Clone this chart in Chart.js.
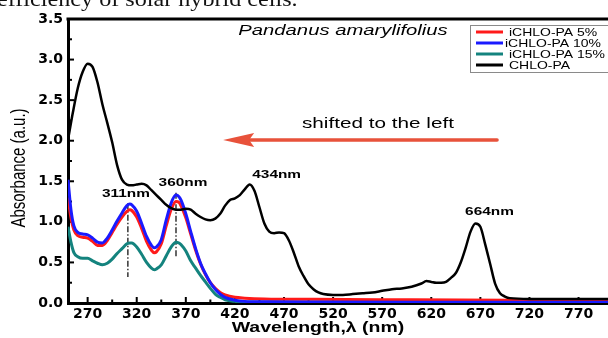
<!DOCTYPE html>
<html>
<head>
<meta charset="utf-8">
<script src="https://cdn.jsdelivr.net/npm/chart.js@4.4.1/dist/chart.umd.min.js"></script>
<style>
html,body{margin:0;padding:0;background:#fff;overflow:hidden;}
#wrap{position:relative;width:608px;height:338px;}
canvas{display:block;}
</style>
</head>
<body>
<div id="wrap"><canvas id="c" width="608" height="338"></canvas></div>
<script>
// ---------------- DATA ----------------
const seriesLabels = ["iCHLO-PA 5%", "iCHLO-PA 10%", "iCHLO-PA 15%", "CHLO-PA"];
const xTickValues = [270, 320, 370, 420, 470, 520, 570, 620, 670, 720, 770];
const yTickValues = [0.0, 0.5, 1.0, 1.5, 2.0, 2.5, 3.0, 3.5];

const wlBlack = [250,255,260,265,270,275,280,285,290,295,300,305,310,315,320,325,330,335,340,345,350,355,360,365,370,375,380,385,390,395,400,405,410,415,420,425,430,435,440,445,450,455,460,465,470,475,480,485,490,495,500,505,510,520,530,540,550,560,570,580,590,600,610,615,620,625,630,635,640,645,650,655,660,665,670,675,680,685,690,695,700,720,760,800];
const absBlack = [2.01,2.35,2.65,2.85,2.95,2.91,2.72,2.45,2.22,1.98,1.70,1.52,1.46,1.45,1.46,1.47,1.45,1.39,1.33,1.27,1.21,1.17,1.15,1.15,1.16,1.15,1.10,1.06,1.03,1.02,1.04,1.10,1.20,1.27,1.29,1.33,1.40,1.46,1.38,1.18,0.98,0.88,0.86,0.87,0.86,0.77,0.62,0.45,0.33,0.23,0.17,0.13,0.11,0.10,0.10,0.11,0.12,0.13,0.15,0.17,0.18,0.20,0.24,0.27,0.26,0.25,0.25,0.26,0.31,0.37,0.50,0.68,0.88,0.98,0.94,0.72,0.48,0.24,0.12,0.08,0.06,0.05,0.05,0.05];

const wlHybrid = [250,253,256,260,265,270,275,280,285,290,295,300,305,310,313,315,320,325,330,335,338,340,345,350,355,360,363,365,370,375,380,385,390,395,400,405,410,420,430,450,500,600,700,800];
const absRed   = [1.30,1.05,0.90,0.83,0.81,0.80,0.76,0.71,0.71,0.77,0.87,0.97,1.06,1.13,1.15,1.14,1.06,0.92,0.76,0.65,0.62,0.63,0.73,0.95,1.15,1.25,1.24,1.20,1.05,0.85,0.65,0.48,0.35,0.25,0.18,0.13,0.10,0.07,0.06,0.05,0.045,0.04,0.035,0.03];
const absBlue  = [1.52,1.15,0.95,0.87,0.85,0.84,0.80,0.75,0.74,0.80,0.90,1.01,1.11,1.20,1.22,1.21,1.13,0.98,0.82,0.71,0.68,0.69,0.78,1.02,1.23,1.33,1.31,1.27,1.10,0.88,0.67,0.49,0.36,0.25,0.17,0.11,0.07,0.035,0.02,0.015,0.012,0.01,0.01,0.01];
const absTeal  = [0.94,0.75,0.62,0.57,0.55,0.55,0.52,0.49,0.47,0.49,0.54,0.61,0.67,0.73,0.74,0.74,0.69,0.60,0.50,0.43,0.41,0.42,0.47,0.58,0.69,0.75,0.74,0.72,0.64,0.52,0.43,0.34,0.26,0.18,0.11,0.07,0.04,0.02,0.012,0.01,0.01,0.01,0.01,0.01];

// peak annotations [label, wavelength, absorbance of label baseline]
const peakLabels = [["311nm", 311, 1.31], ["360nm", 360, 1.44], ["434nm", 434, 1.54], ["664nm", 664, 1.08]];
const peakMarkers = [[311, 1.23, 0.32], [360, 1.36, 0.55]];

// ---------------- STYLE ----------------
const colors = ["#ff1a1a", "#1a1aff", "#14837e", "#000000"];
const toPts = (xs, ys) => xs.map((x, i) => ({x: x, y: ys[i]}));

function sText(ctx, str, x, y, font, color, sx, align) {
  ctx.save();
  ctx.font = font; ctx.fillStyle = color; ctx.textAlign = align || 'left'; ctx.textBaseline = 'alphabetic';
  ctx.translate(x, y); ctx.scale(sx, 1);
  ctx.fillText(str, 0, 0);
  ctx.restore();
}

const decor = {
  id: 'decor',
  beforeDatasetsDraw(chart) {
    const ctx = chart.ctx, a = chart.chartArea;
    const xs = chart.scales.x, ys = chart.scales.y;
    ctx.save();
    // top frame
    ctx.strokeStyle = '#000'; ctx.lineWidth = 3;
    ctx.beginPath(); ctx.moveTo(a.left - 1.5, a.top); ctx.lineTo(a.right + 2, a.top); ctx.stroke();
    // ticks (inward)
    ctx.lineWidth = 2;
    xTickValues.forEach(v => {
      const p = xs.getPixelForValue(v);
      ctx.beginPath(); ctx.moveTo(p, a.bottom); ctx.lineTo(p, a.bottom - 6); ctx.stroke();
      const m = xs.getPixelForValue(v + 25);
      if (m < a.right) { ctx.beginPath(); ctx.moveTo(m, a.bottom); ctx.lineTo(m, a.bottom - 3.5); ctx.stroke(); }
    });
    yTickValues.forEach(v => {
      const p = ys.getPixelForValue(v);
      ctx.beginPath(); ctx.moveTo(a.left, p); ctx.lineTo(a.left + 6, p); ctx.stroke();
      if (v < 3.5) {
        const m = ys.getPixelForValue(v + 0.25);
        ctx.beginPath(); ctx.moveTo(a.left, m); ctx.lineTo(a.left + 4, m); ctx.stroke();
      }
    });
    // dash-dot markers
    ctx.lineWidth = 1.2; ctx.strokeStyle = '#000';
    ctx.setLineDash([6, 2, 1.5, 2]);
    peakMarkers.forEach(([w, y1, y2]) => {
      const px = xs.getPixelForValue(w);
      ctx.beginPath(); ctx.moveTo(px, ys.getPixelForValue(y1)); ctx.lineTo(px, ys.getPixelForValue(y2)); ctx.stroke();
    });
    ctx.setLineDash([]);
    ctx.restore();
  },
  afterDraw(chart) {
    const ctx = chart.ctx, a = chart.chartArea;
    const xs = chart.scales.x, ys = chart.scales.y;
    // cut-off document text at the very top
    sText(ctx, "efficiency of solar hybrid cells.", -3, 6, "21px 'Liberation Serif'", '#111', 1.15, 'left');
    // title
    sText(ctx, "Pandanus amarylifolius", 343, 35, "italic 15px 'Liberation Sans'", '#000', 1.35, 'center');
    // peak labels
    peakLabels.forEach(([t, w, y]) => {
      sText(ctx, t, xs.getPixelForValue(w) + (w === 434 ? 28 : (w === 311 ? -2 : (w === 664 ? 15 : 7))), ys.getPixelForValue(y), "bold 11px 'Liberation Sans'", '#000', 1.4, 'center');
    });
    // arrow
    const ay = ys.getPixelForValue(2.01);
    const ax1 = xs.getPixelForValue(687), ax2 = xs.getPixelForValue(408);
    ctx.save();
    ctx.strokeStyle = '#e8523b'; ctx.fillStyle = '#e8523b'; ctx.lineWidth = 3.5; ctx.lineCap = 'round';
    ctx.beginPath(); ctx.moveTo(ax1, ay); ctx.lineTo(ax2 + 20, ay); ctx.stroke();
    ctx.beginPath(); ctx.moveTo(ax2, ay); ctx.lineTo(ax2 + 31, ay - 7); ctx.lineTo(ax2 + 26, ay); ctx.lineTo(ax2 + 31, ay + 7); ctx.closePath(); ctx.fill();
    ctx.restore();
    sText(ctx, "shifted to the left", 302, ay - 12, "15px 'Liberation Sans'", '#000', 1.38, 'left');
    // legend
    ctx.save();
    ctx.strokeStyle = '#8a8a8a'; ctx.lineWidth = 1;
    ctx.strokeRect(470.5, 25.5, 150, 47);
    const ly = [32, 43, 54, 65];
    seriesLabels.forEach((lab, i) => {
      ctx.strokeStyle = colors[i]; ctx.lineWidth = 3;
      ctx.beginPath(); ctx.moveTo(476, ly[i]); ctx.lineTo(503, ly[i]); ctx.stroke();
      sText(ctx, lab, i === 1 ? 505 : 509, ly[i] + 4, "11px 'Liberation Sans'", '#000', 1.27, 'left');
    });
    ctx.restore();
    // axis titles
    sText(ctx, "Wavelength,\u03bb (nm)", 318, 332, "bold 15px 'Liberation Sans'", '#000', 1.3, 'center');
    ctx.save();
    ctx.translate(25, 168); ctx.rotate(-Math.PI / 2); ctx.scale(1, 1.3);
    ctx.font = "15px 'Liberation Sans'"; ctx.fillStyle = '#000'; ctx.textAlign = 'center'; ctx.textBaseline = 'alphabetic';
    ctx.fillText("Absorbance (a.u.)", 0, 0);
    ctx.restore();
  }
};

const mk = (i, xs, ys, order, w) => ({
  label: seriesLabels[i], data: toPts(xs, ys), borderColor: colors[i], backgroundColor: colors[i],
  borderWidth: w, pointRadius: 0, tension: 0.4, cubicInterpolationMode: 'monotone', fill: false, order: order
});

new Chart(document.getElementById('c'), {
  type: 'line',
  data: {
    datasets: [
      mk(0, wlHybrid, absRed, 2, 3),
      mk(1, wlHybrid, absBlue, 1, 3),
      mk(2, wlHybrid, absTeal, 3, 3),
      mk(3, wlBlack, absBlack, 0, 2.5)
    ]
  },
  options: {
    responsive: false, animation: false, devicePixelRatio: 1,
    layout: { padding: { top: 19, right: 0, left: 0, bottom: 0 } },
    plugins: { legend: { display: false }, tooltip: { enabled: false }, title: { display: false } },
    scales: {
      x: {
        type: 'linear', min: 250, max: 800,
        afterBuildTicks: s => { s.ticks = xTickValues.map(v => ({value: v})); },
        afterFit: s => { s.height = 35; },
        grid: { display: true, drawOnChartArea: false, drawTicks: false },
        border: { display: true, color: '#000', width: 3 },
        ticks: { color: '#000', padding: 3, maxRotation: 0, autoSkip: false, font: { family: 'DejaVu Sans', weight: 'bold', size: 14 }, callback: v => String(v) }
      },
      y: {
        type: 'linear', min: 0, max: 3.5,
        afterBuildTicks: s => { s.ticks = yTickValues.map(v => ({value: v})); },
        afterFit: s => { s.width = 68; },
        grid: { display: true, drawOnChartArea: false, drawTicks: false },
        border: { display: true, color: '#000', width: 3 },
        ticks: { color: '#000', padding: 5, font: { family: 'DejaVu Sans', weight: 'bold', size: 14 }, callback: v => Number(v).toFixed(1) }
      }
    }
  },
  plugins: [decor]
});
</script>
</body>
</html>
